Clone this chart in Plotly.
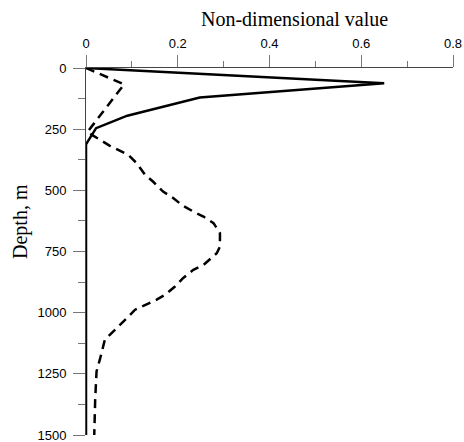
import plotly.graph_objects as go

# Solid profile
solid_depth = [0, 62, 121, 170, 195, 246, 312, 1500]
solid_value = [0, 0.65, 0.248, 0.14, 0.09, 0.022, 0, 0]

# Dashed profile
dash_depth = [0, 67, 262, 318, 355, 388, 437, 464, 505, 531, 560, 587, 607, 634,
              675, 730, 757, 805, 825, 858, 893, 927, 947, 968, 988, 1022, 1063,
              1111, 1186, 1240, 1356, 1500]
dash_value = [0, 0.083, 0.003, 0.052, 0.092, 0.11, 0.129, 0.146, 0.168, 0.19, 0.209,
              0.234, 0.256, 0.278, 0.292, 0.292, 0.285, 0.256, 0.234, 0.212, 0.194,
              0.172, 0.154, 0.129, 0.107, 0.089, 0.067, 0.041, 0.031, 0.023, 0.02, 0.018]

x_ticks = [0, 0.2, 0.4, 0.6, 0.8]
x_ticklabels = ["0", "0.2", "0.4", "0.6", "0.8"]
y_ticks = [0, 250, 500, 750, 1000, 1250, 1500]
y_ticklabels = ["0", "250", "500", "750", "1000", "1250", "1500"]

fig = go.Figure()
fig.add_trace(go.Scatter(x=dash_value, y=dash_depth, mode="lines",
                         line=dict(color="black", width=2.5, dash="9px,6px"),
                         showlegend=False, cliponaxis=False))
fig.add_trace(go.Scatter(x=solid_value, y=solid_depth, mode="lines",
                         line=dict(color="black", width=2.5),
                         showlegend=False, cliponaxis=False))

tickfont = dict(family="Liberation Sans, Arial", size=13, color="black")
fig.update_layout(
    width=464, height=442,
    margin=dict(l=86, r=11, t=68, b=7),
    plot_bgcolor="white", paper_bgcolor="white",
    xaxis=dict(side="top", range=[0, 0.8], tickvals=x_ticks, ticktext=x_ticklabels,
               ticks="outside", ticklen=12, tickcolor="#777", tickwidth=1,
               showline=True, linecolor="#444", linewidth=1, automargin=False,
               showgrid=False, zeroline=False, tickfont=tickfont,
               ticklabelstandoff=2, ticklabeloverflow="allow",
               minor=dict(dtick=0.1, tick0=0, ticks="outside", ticklen=6,
                          tickcolor="#777", tickwidth=1, showgrid=False)),
    yaxis=dict(range=[1500, 0], tickvals=y_ticks, ticktext=y_ticklabels,
               ticks="outside", ticklen=12, tickcolor="#777", tickwidth=1,
               showline=True, linecolor="#444", linewidth=1, automargin=False,
               showgrid=False, zeroline=False, tickfont=tickfont,
               ticklabelstandoff=4, ticklabeloverflow="allow",
               minor=dict(dtick=125, tick0=0, ticks="outside", ticklen=7,
                          tickcolor="#777", tickwidth=1, showgrid=False)),
    annotations=[
        dict(text="Non-dimensional value", xref="paper", yref="paper",
             x=(294 - 86) / 367, y=1 + (68 - 19) / 367, xanchor="center", yanchor="middle",
             showarrow=False,
             font=dict(family="Liberation Serif, Times New Roman", size=20, color="black")),
        dict(text="Depth, m", xref="paper", yref="paper", textangle=-90,
             x=(20 - 86) / 367, y=1 - (222 - 68) / 367, xanchor="center", yanchor="middle",
             showarrow=False,
             font=dict(family="Liberation Serif, Times New Roman", size=20, color="black")),
    ],
)

fig.write_html("out.html", config={"displayModeBar": False},
               post_script="document.body.style.margin='0';document.body.style.overflow='hidden';")
